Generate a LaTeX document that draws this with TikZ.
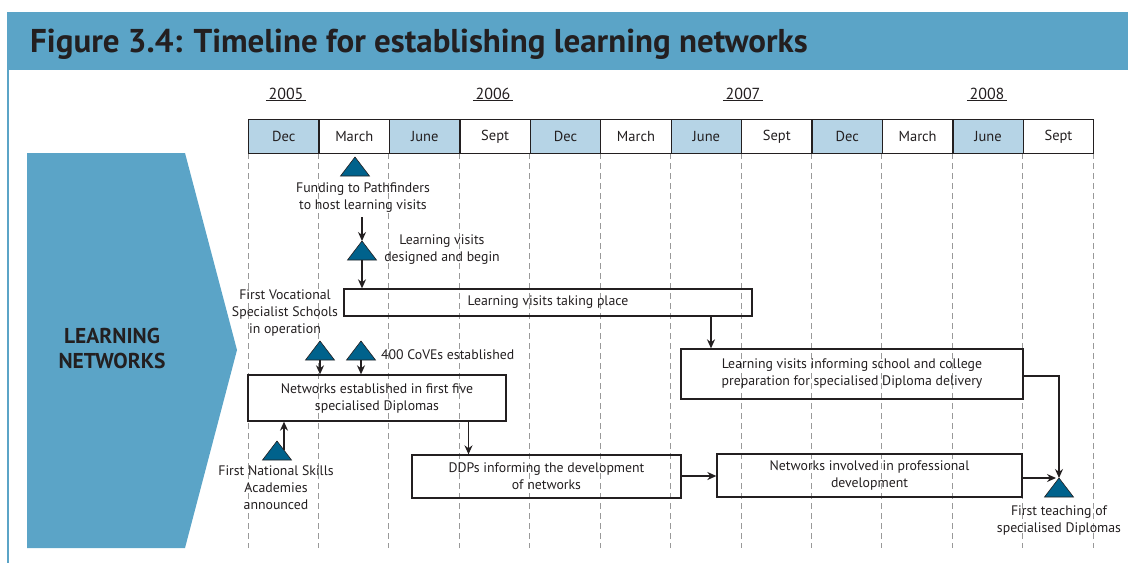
\documentclass[tikz,border=0pt]{standalone}
\usepackage{fontspec}
\setmainfont{PT Sans}
\usetikzlibrary{arrows.meta}
\definecolor{band}{HTML}{5BA4C7}
\definecolor{cellblue}{HTML}{B6D4E6}
\definecolor{trifc}{HTML}{00628C}
\definecolor{ink}{HTML}{231F20}
\newcommand\mytri[3]{%
  \coordinate (#1) at (#2,#3);
  \coordinate (#1b) at (#2,#3+19);
  \filldraw[trifill] (#2,#3) -- (#2-14.5,#3+19) -- (#2+14.5,#3+19) -- cycle;}
\begin{document}
\begin{tikzpicture}[x=1pt,y=-1pt,
  font=\fontsize{13.8}{17}\selectfont, text=ink,
  box/.style={draw=ink, line width=1.3pt, inner sep=0pt, align=center},
  lbl/.style={inner sep=0pt, align=center},
  conn/.style={draw=ink, line width=1.3pt, -{Stealth[length=9pt,width=8pt]}},
  guide/.style={draw=black!40, dash pattern=on 6pt off 4pt, line width=0.7pt},
  cell/.style={draw=ink, line width=1.3pt, minimum width=70.42pt, minimum height=34pt, inner sep=0pt},
  trifill/.style={fill=trifc, draw=ink, line width=0.6pt}]
\useasboundingbox (0,0) rectangle (1128,563);
% frame and header
\fill[band] (8,12) rectangle (1128,70);
\draw[band, line width=1.4pt] (8,12) -- (8,563);
\node[anchor=base west, inner sep=0pt, font=\fontsize{33}{33}\bfseries\selectfont] (title) at (30,52) {Figure 3.4: Timeline for establishing learning networks};
% side arrow
\fill[band] (27,153) -- (185,153) -- (237,350) -- (185,548) -- (27,548) -- cycle;
\node[lbl, font=\fontsize{21.5}{25}\bfseries\selectfont] (side) at (112,348) {LEARNING\\NETWORKS};
% guides
\foreach \i in {0,...,12} \draw[guide] (248+\i*70.42,153) -- (248+\i*70.42,548);
% years
\node[lbl, anchor=base, font=\fontsize{16}{17}\selectfont] (y2005) at (286,99) {\underline{\,2005\,}};
\node[lbl, anchor=base, font=\fontsize{16}{17}\selectfont] (y2006) at (493,99) {\underline{\,2006\,}};
\node[lbl, anchor=base, font=\fontsize{16}{17}\selectfont] (y2007) at (743,99) {\underline{\,2007\,}};
\node[lbl, anchor=base, font=\fontsize{16}{17}\selectfont] (y2008) at (987,99) {\underline{\,2008\,}};
% months
\foreach \m [count=\i from 0] in {Dec,March,June,Sept,Dec,March,June,Sept,Dec,March,June,Sept}{
  \ifodd\i\def\fc{white}\else\def\fc{cellblue}\fi
  \node[cell, fill=\fc, anchor=north west, font=\fontsize{14.5}{17}\selectfont] (m\i) at (248+\i*70.42,119) {\m};
}
% triangles
\mytri{tf}{355}{157}
\mytri{tl}{362}{241}
\mytri{tv}{320}{341}
\mytri{tc}{361}{341}
\mytri{tn}{277}{441}
\mytri{tt}{1059}{478}
% labels
\node[lbl] (lf) at (363,198) {Funding to Pathfinders\\to host learning visits};
\node[lbl] (ll) at (442,250) {Learning visits\\designed and begin};
\node[lbl] (lvoc) at (285,313) {First Vocational\\Specialist Schools\\in operation};
\node[lbl, anchor=west] (lcov) at (381,355) {400 CoVEs established};
\node[lbl] (lnat) at (276,488) {First National Skills\\Academies\\announced};
\node[lbl] (lteach) at (1059,520) {First teaching of\\specialised Diplomas};
% boxes
\node[box, minimum width=408pt, minimum height=27pt] (lv) at (548,302.5) {Learning visits taking place};
\node[box, minimum width=342pt, minimum height=50pt] (lvi) at (852,374) {Learning visits informing school and college\\preparation for specialised Diploma delivery};
\node[box, minimum width=258pt, minimum height=46pt] (ne) at (377,398) {Networks established in first five\\specialised Diplomas};
\node[box, minimum width=269pt, minimum height=43pt] (ddp) at (546.5,476.5) {DDPs informing the development\\of networks};
\node[box, minimum width=305pt, minimum height=43pt] (nip) at (869.5,475.5) {Networks involved in professional\\development};
% helper coordinates
\coordinate (xa) at (711,0);
\coordinate (xb) at (468.5,0);
\coordinate (tnr) at (284,450);
\coordinate (ya) at (0,476);
\coordinate (yb) at (0,478);
\coordinate (yc) at (0,376);
\coordinate (ttl) at (1056,478);
% connectors
\draw[conn] (lf.south -| tl) ++(0,4) -- (tl);
\draw[conn] (tlb) -- (lv.north -| tlb);
\draw[conn] (lv.south -| xa) -- (lvi.north -| xa);
\draw[conn] (tvb) -- (ne.north -| tvb);
\draw[conn] (tcb) -- (ne.north -| tcb);
\draw[conn] (tnr) -- (ne.south -| tnr);
\draw[conn] (ne.south -| xb) -- (ddp.north -| xb);
\draw[conn] (ddp.east |- ya) -- (nip.west |- ya);
\draw[conn] (nip.east |- yb) -- (ttl);
\draw[conn] (lvi.east |- yc) -| (tt);
\end{tikzpicture}
\end{document}
